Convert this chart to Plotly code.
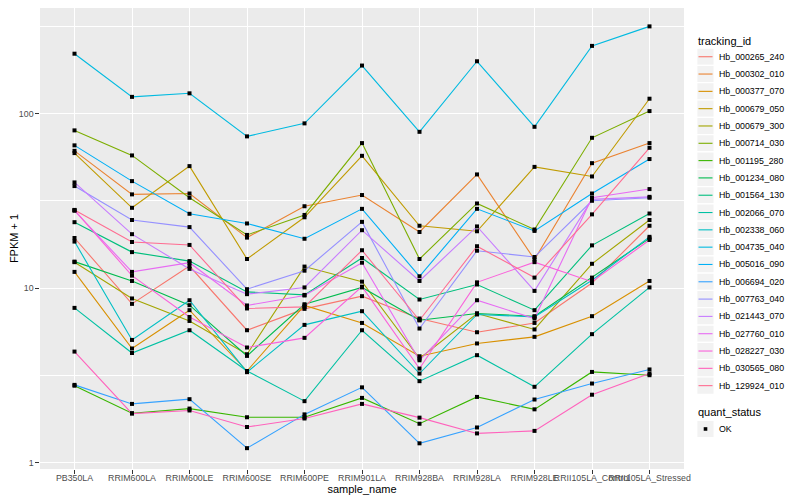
import plotly.graph_objects as go

sample_names = ["PB350LA", "RRIM600LA", "RRIM600LE", "RRIM600SE", "RRIM600PE",
                "RRIM901LA", "RRIM928BA", "RRIM928LA", "RRIM928LE",
                "RRII105LA_Control", "RRII105LA_Stressed"]

tracking_ids = ["Hb_000265_240", "Hb_000302_010", "Hb_000377_070", "Hb_000679_050",
                "Hb_000679_300", "Hb_000714_030", "Hb_001195_280", "Hb_001234_080",
                "Hb_001564_130", "Hb_002066_070", "Hb_002338_060", "Hb_004735_040",
                "Hb_005016_090", "Hb_006694_020", "Hb_007763_040", "Hb_021443_070",
                "Hb_027760_010", "Hb_028227_030", "Hb_030565_080", "Hb_129924_010"]

colors = ["#F8766D", "#EA8331", "#D89000", "#C09B00", "#A3A500", "#7CAE00", "#39B600",
          "#00BB4E", "#00BF7D", "#00C1A3", "#00BFC4", "#00BAE0", "#00B0F6", "#35A2FF",
          "#9590FF", "#C77CFF", "#E76BF3", "#FA62DB", "#FF62BC", "#FF6C91"]

# FPKM + 1 per sample (same order as sample_names)
hb_000265_240 = [19.4, 8.13, 13.4, 5.74, 7.61, 9.00, 6.70, 5.59, 6.32, 10.7, 22.8]
hb_000302_010 = [61.3, 34.5, 34.9, 19.5, 29.5, 34.2, 21.0, 44.9, 14.6, 52.1, 67.9]
hb_000377_070 = [12.4, 4.51, 7.48, 3.35, 7.96, 6.32, 4.07, 4.82, 5.26, 6.91, 11.0]
hb_000679_050 = [59.5, 28.9, 50.1, 14.7, 25.5, 57.4, 22.8, 21.2, 49.6, 43.7, 122]
hb_000679_300 = [14.1, 8.73, 6.49, 4.18, 13.3, 10.9, 3.95, 7.16, 5.80, 13.8, 24.6]
hb_000714_030 = [80.3, 57.7, 33.0, 20.2, 26.3, 67.9, 14.7, 30.6, 21.7, 72.8, 103.6]
hb_001195_280 = [2.76, 1.92, 2.04, 1.82, 1.82, 2.35, 1.67, 2.38, 2.02, 3.31, 3.17]
hb_001234_080 = [14.2, 11.0, 7.99, 4.09, 8.09, 10.1, 6.55, 7.16, 6.91, 11.5, 19.3]
hb_001564_130 = [23.9, 16.1, 14.3, 9.52, 9.15, 14.9, 8.61, 10.5, 7.48, 17.6, 26.8]
hb_002066_070 = [7.71, 4.25, 5.74, 3.35, 2.25, 5.74, 2.93, 4.13, 2.72, 5.45, 10.1]
hb_002338_060 = [18.5, 5.05, 8.53, 3.30, 6.16, 7.38, 3.24, 7.07, 6.84, 11.1, 19.7]
hb_004735_040 = [221, 125, 131, 74.2, 88.1, 189, 78.8, 200, 84.2, 245, 317]
hb_005016_090 = [65.9, 41.1, 26.7, 23.5, 19.2, 28.5, 11.7, 28.5, 21.3, 34.9, 55.0]
hb_006694_020 = [2.79, 2.17, 2.31, 1.21, 1.89, 2.70, 1.29, 1.59, 2.30, 2.84, 3.42]
hb_007763_040 = [38.5, 24.6, 22.4, 9.87, 12.6, 24.0, 5.87, 16.4, 15.1, 31.7, 33.0]
hb_021443_070 = [40.4, 20.4, 12.9, 9.24, 10.1, 21.5, 11.0, 22.6, 9.65, 32.3, 33.4]
hb_027760_010 = [27.8, 12.4, 14.0, 7.96, 9.08, 14.0, 3.86, 8.53, 6.70, 33.0, 37.0]
hb_028227_030 = [28.0, 11.8, 6.84, 4.57, 5.19, 10.2, 3.46, 10.8, 14.1, 10.9, 18.9]
hb_030565_080 = [4.33, 1.91, 1.99, 1.60, 1.79, 2.17, 1.81, 1.47, 1.52, 2.45, 3.24]
hb_129924_010 = [28.1, 18.4, 17.7, 7.65, 7.81, 16.5, 6.55, 17.4, 11.5, 26.5, 63.8]

series = [hb_000265_240, hb_000302_010, hb_000377_070, hb_000679_050, hb_000679_300,
          hb_000714_030, hb_001195_280, hb_001234_080, hb_001564_130, hb_002066_070,
          hb_002338_060, hb_004735_040, hb_005016_090, hb_006694_020, hb_007763_040,
          hb_021443_070, hb_027760_010, hb_028227_030, hb_030565_080, hb_129924_010]

y_ticks = [1, 10, 100]
y_tick_labels = ["1", "10", "100"]
y_minor = [3.1623, 31.623, 316.23]

FONT = "Liberation Sans"
OFF = 8                      # page body margin of the html page
W, H = 800 - OFF, 500 - OFF  # figure size so that it fits the window
# panel edges in window pixels
L_win, R_win, B_win = 40, 683.7, 468.7
L, R, T, B = L_win - OFF, R_win - OFF, 0, B_win - OFF

fig = go.Figure()
for name, col, vals in zip(tracking_ids, colors, series):
    fig.add_trace(go.Scatter(x=sample_names, y=vals, mode="lines", name=name,
                             line=dict(color=col, width=1.1), showlegend=False))
for name, vals in zip(tracking_ids, series):
    fig.add_trace(go.Scatter(x=sample_names, y=vals, mode="markers", name=name,
                             marker=dict(symbol="square", size=4, color="black"),
                             showlegend=False))

def px(xw):
    return (xw - OFF - L) / (R - L)

def py(yw):
    return (B - (yw - OFF)) / (B - T)

shapes = []
annotations = []
annotations.append(dict(x=px(696), y=py(40.5), xref="paper", yref="paper", text="tracking_id",
                        showarrow=False, xanchor="left", yanchor="middle",
                        font=dict(family=FONT, size=11, color="black")))
step = 17.3
for i, (name, col) in enumerate(zip(tracking_ids, colors)):
    cy = 56.7 + step * i
    shapes.append(dict(type="rect", xref="paper", yref="paper",
                       x0=px(696.5), x1=px(713.8), y0=py(cy - step / 2), y1=py(cy + step / 2),
                       fillcolor="#F2F2F2", line=dict(color="white", width=1.2), layer="above"))
    shapes.append(dict(type="line", xref="paper", yref="paper",
                       x0=px(698.2), x1=px(712.2), y0=py(cy), y1=py(cy),
                       line=dict(color=col, width=1.1), layer="above"))
    annotations.append(dict(x=px(716.3), y=py(cy), xref="paper", yref="paper", text=name,
                            showarrow=False, xanchor="left", yanchor="middle",
                            font=dict(family=FONT, size=8.8, color="black")))
annotations.append(dict(x=px(696), y=py(412), xref="paper", yref="paper", text="quant_status",
                        showarrow=False, xanchor="left", yanchor="middle",
                        font=dict(family=FONT, size=11, color="black")))
cy = 428.7
shapes.append(dict(type="rect", xref="paper", yref="paper",
                   x0=px(696.5), x1=px(713.8), y0=py(cy - step / 2), y1=py(cy + step / 2),
                   fillcolor="#F2F2F2", line=dict(color="white", width=1.2), layer="above"))
shapes.append(dict(type="rect", xref="paper", yref="paper",
                   x0=px(703.4), x1=px(707.0), y0=py(cy - 1.8), y1=py(cy + 1.8),
                   fillcolor="black", line=dict(width=0), layer="above"))
annotations.append(dict(x=px(716.3), y=py(cy), xref="paper", yref="paper", text="OK",
                        showarrow=False, xanchor="left", yanchor="middle",
                        font=dict(family=FONT, size=8.8, color="black")))

# log range so that 1 / 10 / 100 sit at window y 462.3 / 288 / 113.7
y_top = (462.3 - (T + OFF)) / 174.3
y_bot = (462.3 - B_win) / 174.3

fig.update_layout(
    width=W, height=H,
    margin=dict(l=L, r=W - R, t=T, b=H - B, pad=0),
    paper_bgcolor="white", plot_bgcolor="#EBEBEB",
    font=dict(family=FONT, size=8.8, color="#4D4D4D"),
    shapes=shapes, annotations=annotations,
    xaxis=dict(type="category", categoryorder="array", categoryarray=sample_names,
               range=[-0.6, len(sample_names) - 0.4], showgrid=True, gridcolor="white",
               gridwidth=1.1, zeroline=False, showline=False, ticks="outside", ticklen=3.7,
               tickwidth=1.07, tickcolor="#333333", tickangle=0, ticklabelstandoff=-3,
               tickfont=dict(family=FONT, size=8.8, color="#4D4D4D"),
               title=dict(text="sample_name", standoff=3,
                          font=dict(family=FONT, size=11, color="black")),
               automargin=False),
    yaxis=dict(type="log", range=[y_bot, y_top], tickmode="array", tickvals=y_ticks,
               ticktext=y_tick_labels, showgrid=True, gridcolor="white", gridwidth=1.1,
               zeroline=False, showline=False, ticks="outside", ticklen=3.7, tickwidth=1.07,
               tickcolor="#333333", tickfont=dict(family=FONT, size=8.8, color="#4D4D4D"),
               minor=dict(tickmode="array", tickvals=y_minor, showgrid=True,
                          gridcolor="white", gridwidth=0.55, ticks=""),
               title=dict(text="FPKM + 1", standoff=0,
                          font=dict(family=FONT, size=11, color="black")),
               automargin=False),
)

fig.write_html("out.html")
